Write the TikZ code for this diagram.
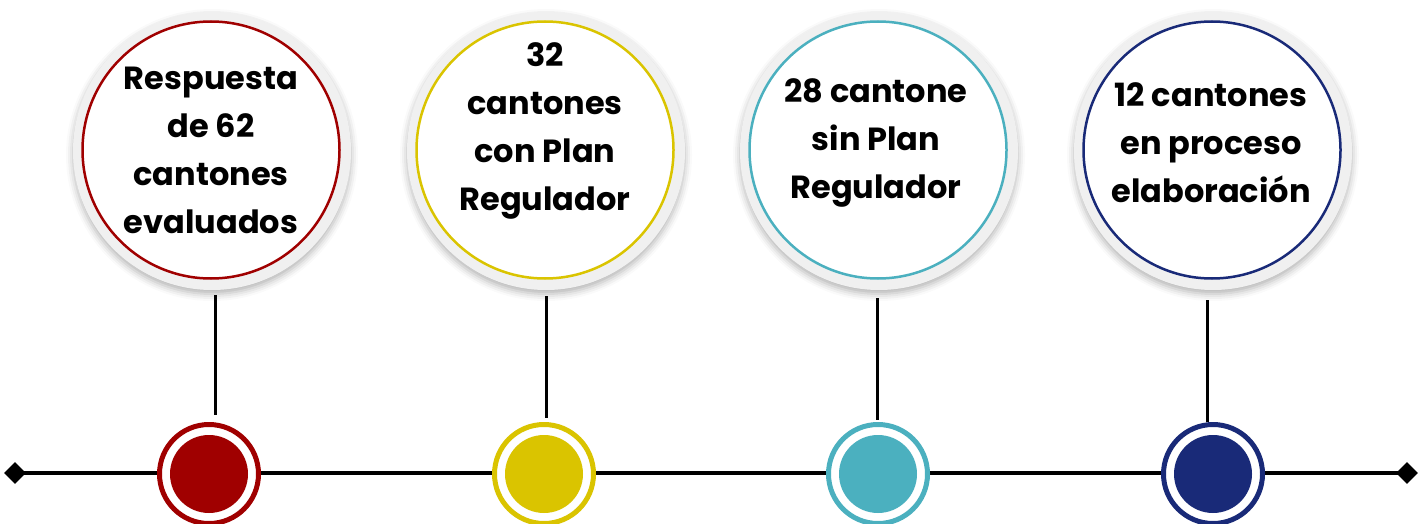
\documentclass[tikz,border=0pt]{standalone}
\usepackage{fontspec}
\setmainfont{Poppins}
\usepackage{tikz}
\usetikzlibrary{shapes,positioning,shadows.blur}
\definecolor{RojoCanton}{RGB}{160,0,0}
\definecolor{AmarilloCanton}{RGB}{218,196,0}
\definecolor{TurquesaCanton}{RGB}{75,176,191}
\definecolor{AzulCanton}{RGB}{25,42,120}
\tikzset{
  every node/.style={
    font=\bfseries\fontsize{32}{48}\selectfont
  },
  back disc/.style={
    shape=circle,
    minimum size=278pt,
    inner sep=0pt,
    fill=black!6,
    blur shadow={shadow xshift=0pt,shadow yshift=-4pt,shadow blur radius=7pt,shadow opacity=30}
  },
  ring disc/.style={
    shape=circle,
    minimum size=257pt,
    inner sep=0pt,
    draw=#1,
    line width=2.5pt,
    fill=white
  },
  dot style/.style={
    shape=circle,
    minimum size=99pt,
    inner sep=0pt,
    draw=#1,
    line width=5pt,
    fill=white,
    path picture={\fill[#1] (path picture bounding box.center) circle (39pt);}
  },
  label text/.style={
    align=center,
    text=black
  },
  end mark/.style={
    shape=diamond,
    fill=black,
    inner sep=0pt,
    minimum size=22pt
  },
  stem/.style={
    line width=3pt,
    black
  }
}
\begin{document}
\begin{tikzpicture}[x=1pt,y=-1pt]
  \useasboundingbox (0,0) rectangle (1424,524);
  % linea de tiempo
  \node[end mark] (izq) at (15,473) {};
  \node[end mark] (der) at (1407,473) {};
  \draw[line width=3.2pt] (izq.center) -- (der.center);

  % circulos grandes
  \node[back disc] (b1) at (212,151) {};
  \node[ring disc=RojoCanton] (c1) at (211,150) {};
  \node[back disc] (b2) at (546,151) {};
  \node[ring disc=AmarilloCanton] (c2) at (545,150) {};
  \node[back disc] (b3) at (879,151) {};
  \node[ring disc=TurquesaCanton] (c3) at (878,150) {};
  \node[back disc] (b4) at (1213,151) {};
  \node[ring disc=AzulCanton] (c4) at (1212,150) {};

  \node[label text] (t1) at (211,150) {Respuesta\\de 62\\cantones\\evaluados};
  \node[label text] (t2) at (545,131) {32\\cantones\\con Plan\\Regulador};
  \node[label text] (t3) at (876,143) {28 cantone\\sin Plan\\Regulador};
  \node[label text] (t4) at (1211,143) {12 cantones\\en proceso\\elaboración};

  % puntos sobre la linea
  \node[dot style=RojoCanton] (d1) at (209,474) {};
  \node[dot style=AmarilloCanton] (d2) at (544,474) {};
  \node[dot style=TurquesaCanton] (d3) at (878,474) {};
  \node[dot style=AzulCanton] (d4) at (1213,474) {};

  \draw[stem] ([yshift=-5pt]b1.south -| 215,0) -- ([yshift=7pt]d1.north -| 215,0);
  \draw[stem] ([yshift=-6pt]b2.south -| 546,0) -- ([yshift=4pt]d2.north -| 546,0);
  \draw[stem] ([yshift=-8pt]b3.south -| 877,0) -- ([yshift=2pt]d3.north -| 877,0);
  \draw[stem] ([yshift=-10pt]b4.south -| 1207,0) -- ([yshift=0pt]d4.north -| 1207,0);
\end{tikzpicture}
\end{document}
